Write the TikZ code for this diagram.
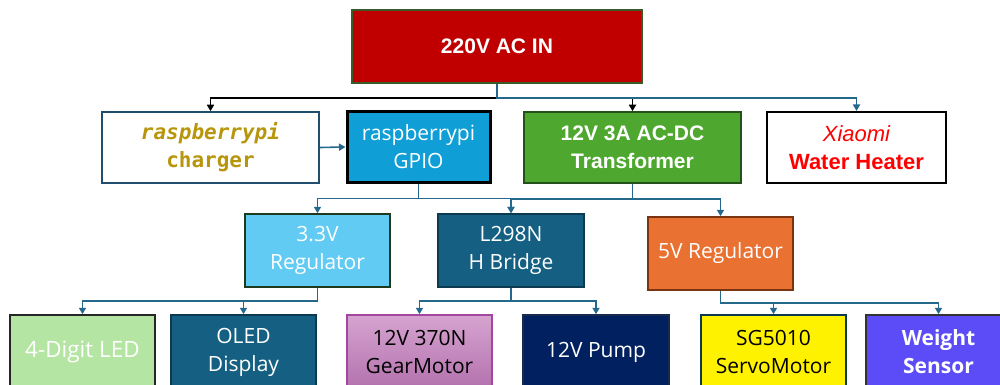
\documentclass[tikz,border=0pt]{standalone}
\usepackage{fontspec}
\setmainfont{Open Sans}
\setmonofont{DejaVu Sans Mono}
\newfontfamily\arialf{Liberation Sans}
\usetikzlibrary{arrows.meta}
\definecolor{acred}{HTML}{C00000}
\definecolor{acborder}{HTML}{3A5A2A}
\definecolor{gpiob}{HTML}{0F9ED5}
\definecolor{transg}{HTML}{4EA72E}
\definecolor{transborder}{HTML}{24501A}
\definecolor{regb}{HTML}{61CBF3}
\definecolor{regborder}{HTML}{1E3A1E}
\definecolor{teal}{HTML}{156082}
\definecolor{tealborder}{HTML}{0C3A50}
\definecolor{orng}{HTML}{E97132}
\definecolor{orngborder}{HTML}{7A3510}
\definecolor{ledg}{HTML}{B4E5A2}
\definecolor{navy}{HTML}{002060}
\definecolor{navyborder}{HTML}{1A2A4A}
\definecolor{wtb}{HTML}{5B4CF8}
\definecolor{geartop}{HTML}{D6A4D0}
\definecolor{gearbot}{HTML}{B371AD}
\definecolor{gearborder}{HTML}{A246A0}
\definecolor{chgborder}{HTML}{1F4E6E}
\definecolor{chgtext}{HTML}{B8960B}
\definecolor{conn}{HTML}{24688C}
\definecolor{xred}{HTML}{FF0000}
\tikzset{
  box/.style={rectangle, inner sep=0pt, align=center, line width=1.5pt,
    font=\fontsize{21}{28}\selectfont},
  wire/.style={line width=1.6pt, draw=conn, -{Triangle[length=6.5pt,width=7pt]}},
  bwire/.style={line width=1.6pt, draw=black, -{Triangle[length=6.5pt,width=7pt]}},
}
\begin{document}
\begin{tikzpicture}[x=1pt,y=-1pt]
\path[use as bounding box] (0,0) rectangle (1000,385);
\clip (0,0) rectangle (1000,385);
% row 1
\node[box, fill=acred, draw=acborder, minimum width=290pt, minimum height=73pt,
  text=white, font=\arialf\bfseries\fontsize{21}{26}\selectfont] (ac) at (497,46.5) {220V AC IN};
% row 2
\node[box, fill=white, draw=chgborder, minimum width=217pt, minimum height=71pt,
  text=chgtext, font=\ttfamily\bfseries\fontsize{21}{28}\selectfont] (chg) at (210.5,147.5) {{\itshape raspberrypi}\\charger};
\node[box, fill=gpiob, draw=black, line width=3pt, minimum width=143pt, minimum height=70pt,
  text=white] (gpio) at (418.5,147) {raspberrypi\\GPIO};
\node[box, fill=transg, draw=transborder, minimum width=217pt, minimum height=71pt,
  text=white, font=\arialf\bfseries\fontsize{21}{28}\selectfont] (trans) at (632.5,147.5) {12V 3A AC-DC\\Transformer};
\node[box, fill=white, draw=black, line width=2pt, minimum width=179pt, minimum height=71pt,
  text=xred, font=\arialf\fontsize{22}{28}\selectfont] (xia) at (856.5,147.5) {{\itshape Xiaomi}\\{\bfseries Water Heater}};
% row 3
\node[box, fill=regb, draw=regborder, minimum width=145pt, minimum height=73pt,
  text=white] (r33) at (317.5,250.5) {3.3V\\Regulator};
\node[box, fill=teal, draw=tealborder, minimum width=146pt, minimum height=73pt,
  text=white] (lbr) at (511,250.5) {L298N\\H Bridge};
\node[box, fill=orng, draw=orngborder, minimum width=145pt, minimum height=73pt,
  text=white] (r5) at (720.5,253.5) {5V Regulator};
% row 4
\node[box, fill=ledg, draw=black!85, minimum width=145pt, minimum height=74pt,
  text=white, font=\fontsize{22.5}{28}\selectfont] (led) at (82.5,352) {4-Digit LED};
\node[box, fill=teal, draw=tealborder, minimum width=145pt, minimum height=74pt,
  text=white] (oled) at (243.5,352) {OLED\\Display};
\node[box, top color=geartop, bottom color=gearbot, draw=gearborder, minimum width=145pt, minimum height=74pt,
  text=black] (gear) at (419.5,352) {12V 370N\\GearMotor};
\node[box, fill=navy, draw=navyborder, minimum width=146pt, minimum height=74pt,
  text=white] (pump) at (596,352) {12V Pump};
\node[box, fill=yellow, draw=tealborder, minimum width=145pt, minimum height=74pt,
  text=black] (servo) at (773.5,352) {SG5010\\ServoMotor};
\node[box, fill=wtb, draw=black!80, minimum width=145pt, minimum height=74pt,
  text=white, font=\bfseries\fontsize{21}{28}\selectfont] (wt) at (938.5,352) {Weight\\Sensor};
% connectors from AC
\draw[bwire] (ac.south) -- ++(0,14) -| (chg.north);
\draw[bwire] (ac.south) -- ++(0,14) -| (trans.north);
\draw[wire] (ac.south) -- ++(0,14) -| (xia.north);
% charger to gpio
\draw[wire] (chg.east) -- (gpio.west);
% gpio and transformer
\draw[wire] (gpio.south) -- ++(0,15) -| (r33.north);
\draw[wire] (gpio.south) -- ++(0,15) -| (lbr.north);
\draw[wire] (trans.south) -- ++(0,15) -| (lbr.north);
\draw[wire] (trans.south) -- ++(0,15) -| (r5.north);
% third row to fourth
\draw[wire] (r33.south) -- ++(0,13) -| (led.north);
\draw[wire] (r33.south) -- ++(0,13) -| (oled.north);
\draw[wire] (lbr.south) -- ++(0,13) -| (gear.north);
\draw[wire] (lbr.south) -- ++(0,13) -| (pump.north);
\draw[wire] (r5.south) -- ++(0,12) -| (servo.north);
\draw[wire] (r5.south) -- ++(0,12) -| (wt.north);
\end{tikzpicture}
\end{document}
